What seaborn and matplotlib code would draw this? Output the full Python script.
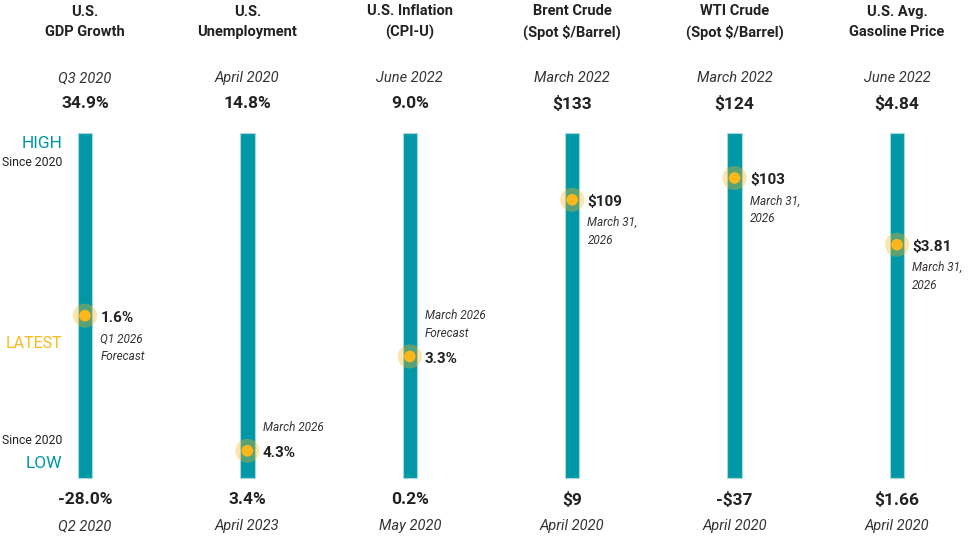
import numpy as np
import pandas as pd
import matplotlib
matplotlib.use("Agg")
import matplotlib.pyplot as plt
import seaborn as sns

# data
titles = ["U.S.\nGDP Growth", "U.S.\nUnemployment", "U.S. Inflation\n(CPI-U)",
          "Brent Crude\n(Spot $/Barrel)", "WTI Crude\n(Spot $/Barrel)", "U.S. Avg.\nGasoline Price"]
high_vals = [34.9, 14.8, 9.0, 133, 124, 4.84]
high_labels = ["34.9%", "14.8%", "9.0%", "$133", "$124", "$4.84"]
high_dates = ["Q3 2020", "April 2020", "June 2022", "March 2022", "March 2022", "June 2022"]
low_vals = [-28.0, 3.4, 0.2, 9, -37, 1.66]
low_labels = ["-28.0%", "3.4%", "0.2%", "$9", "-$37", "$1.66"]
low_dates = ["Q2 2020", "April 2023", "May 2020", "April 2020", "April 2020", "April 2020"]
latest_vals = [1.6, 4.3, 3.3, 109, 103, 3.81]
latest_labels = ["1.6%", "4.3%", "3.3%", "$109", "$103", "$3.81"]
latest_dates = ["Q1 2026\nForecast", "March 2026", "March 2026\nForecast",
                "March 31,\n2026", "March 31,\n2026", "March 31,\n2026"]
date_above = [False, True, True, False, False, False]

TEAL = "#0098A6"
GOLD = "#FDB71A"
DARK = "#222222"

df = pd.DataFrame({"metric": titles, "hi": high_vals, "lo": low_vals, "latest": latest_vals})
df["pos"] = (df["latest"] - df["lo"]) / (df["hi"] - df["lo"])
df["full"] = 1.0

sns.set_theme(style="white")
plt.rcParams["font.family"] = ["Roboto", "DejaVu Sans"]

fig = plt.figure(figsize=(9.68, 5.54), dpi=100)
ax = fig.add_axes([0, 0, 1, 1])

# bars span low (0) .. high (1)
sns.barplot(data=df, x="metric", y="full", color=TEAL, width=0.088,
            edgecolor="#a8d8dc", linewidth=0.8, saturation=1, ax=ax)

# latest markers with halo
sns.scatterplot(x=np.arange(len(df)), y=df["pos"], s=300, color=GOLD, alpha=0.35,
                edgecolor="none", ax=ax, zorder=3)
sns.scatterplot(x=np.arange(len(df)), y=df["pos"], s=70, color=GOLD,
                edgecolor="none", ax=ax, zorder=4)

# pixel layout helpers: bar top at y=133px, bottom at y=478px
def ypx(p):
    return (478 - p) / 345.0

ax.set_xlim(-0.523, 5.437)
ax.set_ylim(ypx(554), ypx(0))
ax.axis("off")

for i, row in df.iterrows():
    ax.text(i, ypx(22), titles[i], ha="center", va="center", fontsize=10.5,
            fontweight="bold", color=DARK, linespacing=1.55)
    ax.text(i, ypx(78), high_dates[i], ha="center", va="center", fontsize=10.5,
            style="italic", color="#333333")
    ax.text(i, ypx(104), high_labels[i], ha="center", va="center", fontsize=12.5,
            fontweight="bold", color=DARK)
    ax.text(i, ypx(500), low_labels[i], ha="center", va="center", fontsize=12.5,
            fontweight="bold", color=DARK)
    ax.text(i, ypx(526), low_dates[i], ha="center", va="center", fontsize=10.5,
            style="italic", color="#333333")

    y = row["pos"]
    ax.annotate(latest_labels[i], (i, y), xytext=(11, -1.5), textcoords="offset points",
                ha="left", va="center", fontsize=11, fontweight="bold", color=DARK)
    nlines = latest_dates[i].count("\n") + 1
    off = (17 if nlines == 1 else 23) if date_above[i] else -23
    ax.annotate(latest_dates[i], (i, y), xytext=(11, off), textcoords="offset points",
                ha="left", va="center", fontsize=8.5, style="italic", color="#333333",
                linespacing=1.5)

# legend-like side labels
lx = -0.14
ax.text(lx, ypx(143), "HIGH", ha="right", va="center", fontsize=12.5, color=TEAL)
ax.text(lx, ypx(163), "Since 2020", ha="right", va="center", fontsize=8.8, color=DARK)
ax.text(lx, ypx(344), "LATEST", ha="right", va="center", fontsize=11.5, color=GOLD)
ax.text(lx, ypx(441), "Since 2020", ha="right", va="center", fontsize=8.8, color=DARK)
ax.text(lx, ypx(463), "LOW", ha="right", va="center", fontsize=12.5, color=TEAL)

fig.savefig("out.png", dpi=100)
